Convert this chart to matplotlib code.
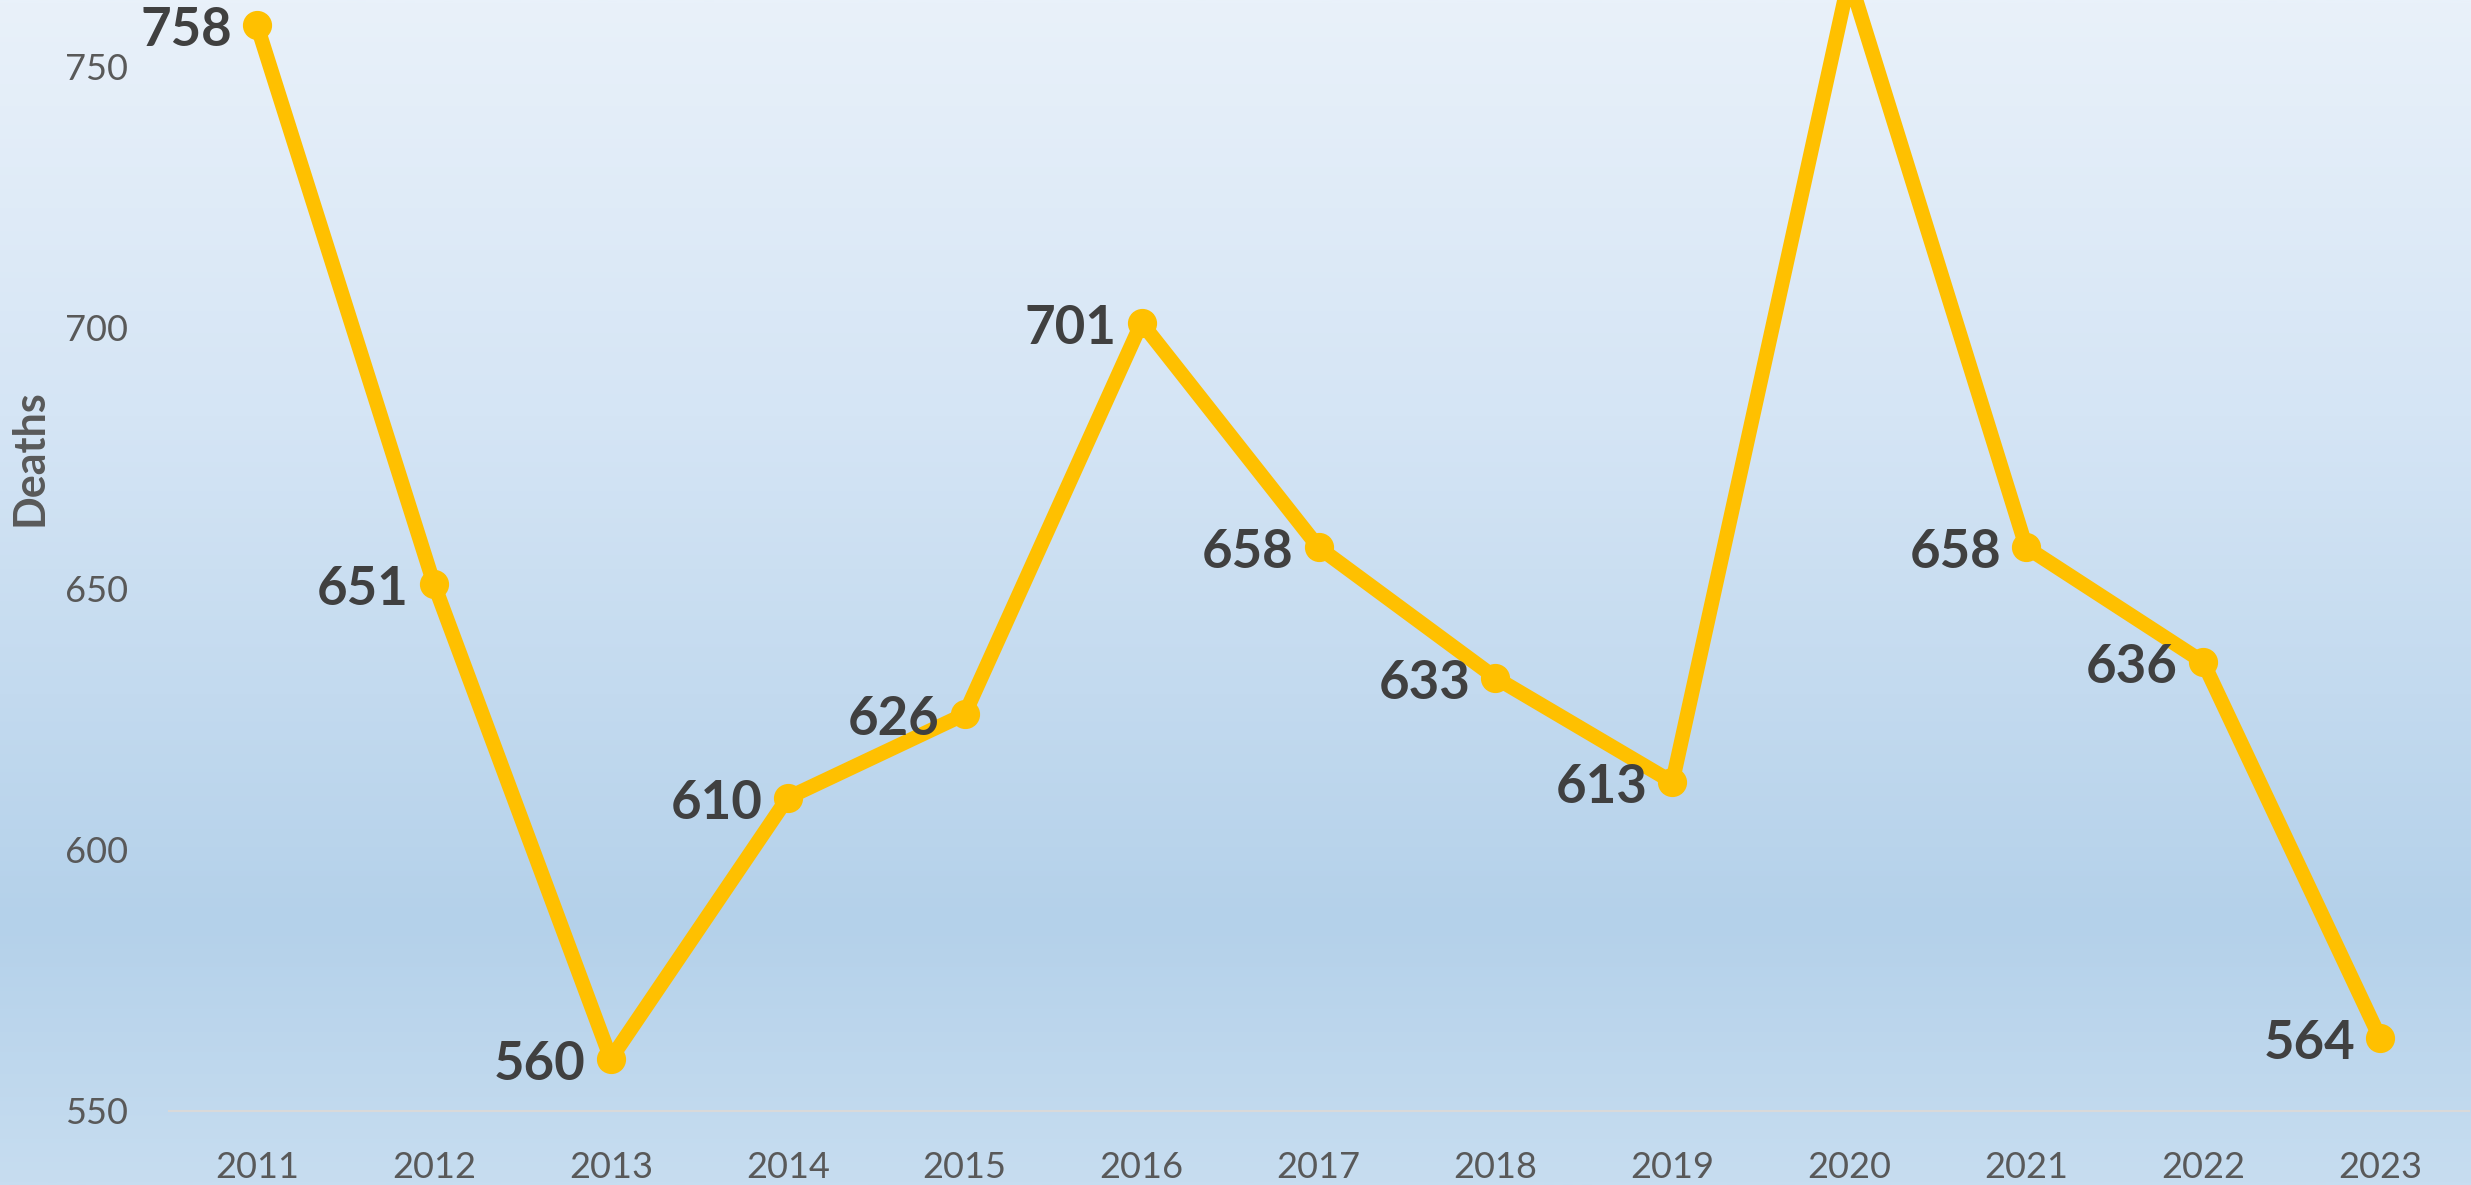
import matplotlib
matplotlib.use("Agg")
import matplotlib.pyplot as plt
import numpy as np
from matplotlib.colors import LinearSegmentedColormap

years = ["2011", "2012", "2013", "2014", "2015", "2016", "2017",
         "2018", "2019", "2020", "2021", "2022", "2023"]
deaths = [758, 651, 560, 610, 626, 701, 658, 633, 613, 767, 658, 636, 564]
y_ticks = [550, 600, 650, 700, 750]

plt.rcParams['font.family'] = ['Lato', 'DejaVu Sans']

W, H, DPI = 2471, 1185, 100
fig = plt.figure(figsize=(W / DPI, H / DPI), dpi=DPI)

# background gradient
bg = fig.add_axes([0, 0, 1, 1], zorder=-10)
cmap = LinearSegmentedColormap.from_list(
    "bg",
    [(0.0, (233/255, 241/255, 250/255)),
     (0.35, (213/255, 229/255, 245/255)),
     (0.78, (180/255, 209/255, 234/255)),
     (1.0, (199/255, 221/255, 240/255))])
grad = np.linspace(0, 1, 512).reshape(-1, 1)
bg.imshow(grad, aspect="auto", cmap=cmap, extent=[0, 1, 0, 1], origin="upper")
bg.set_axis_off()

left = 168.5 / W
right = 2468.5 / W
bottom = 1 - 1111 / H
ax = fig.add_axes([left, bottom, right - left, 1 - bottom])
ax.patch.set_alpha(0)

x = np.arange(len(years))
ax.plot(x, deaths, color="#FFC000", lw=10.5, marker="o", markersize=20,
        solid_joinstyle="round", solid_capstyle="round", zorder=3)

for xi, v in zip(x, deaths):
    ax.annotate(str(v), xy=(xi, v), xytext=(-18, -4), textcoords="offset points",
                ha="right", va="center", fontsize=38, fontweight="bold",
                color="#404040", annotation_clip=False, zorder=4)

ax.set_xlim(-0.5, len(years) - 0.5)
ax.set_ylim(550, 750 + 67 / 5.22)
ax.set_yticks(y_ticks)
ax.set_xticks(x)
ax.set_xticklabels(years)
ax.tick_params(axis="both", length=0, labelsize=26, labelcolor="#595959")
ax.tick_params(axis="y", pad=29)
ax.tick_params(axis="x", pad=29)
for s in ["top", "right", "left"]:
    ax.spines[s].set_visible(False)
ax.spines["bottom"].set_color("#D9D9D9")
ax.spines["bottom"].set_linewidth(1.5)

fig.text(29 / W, 1 - 458 / H, "Deaths", rotation=90, ha="center", va="center",
         fontsize=31, fontweight="bold", color="#595959")

fig.savefig("out.png", dpi=DPI)
